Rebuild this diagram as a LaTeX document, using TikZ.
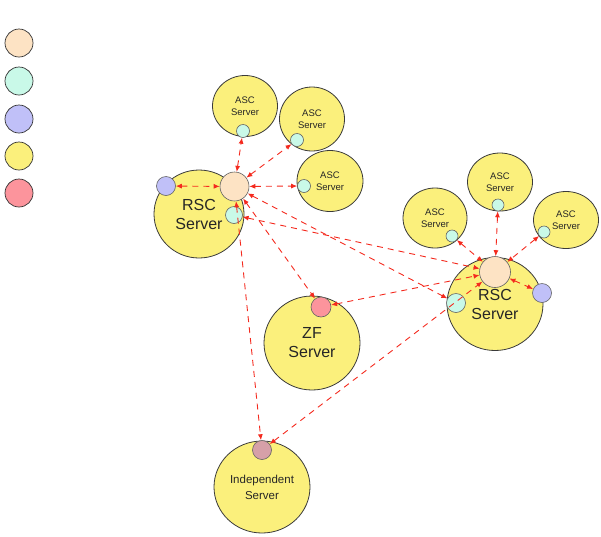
\documentclass[tikz,border=0pt]{standalone}
\usepackage{fontspec}
\setmainfont{Liberation Sans}
\usetikzlibrary{arrows.meta,shapes.geometric}
\definecolor{peach}{HTML}{FDE3C4}
\definecolor{mint}{HTML}{C9F9E8}
\definecolor{lav}{HTML}{C0C0F8}
\definecolor{srvyellow}{HTML}{FBF07C}
\definecolor{rose}{HTML}{FC949C}
\definecolor{mauve}{HTML}{D6A0A8}
\definecolor{linkred}{HTML}{F42A1E}
\definecolor{rim}{HTML}{3A3A3A}
\tikzset{
  server/.style={ellipse, draw=rim, line width=0.8pt, fill=srvyellow, inner sep=0pt, align=center, text=black!85},
  port/.style={circle, draw=rim!80, line width=0.6pt, inner sep=0pt, minimum size=#1},
  legenddot/.style={circle, draw=black!80, line width=0.7pt, inner sep=0pt, minimum size=28pt},
  link/.style={draw=linkred, line width=0.9pt, dash pattern=on 6pt off 5pt,
    {Latex[length=6pt,width=5pt]}-{Latex[length=6pt,width=5pt]}},
}
\begin{document}
\begin{tikzpicture}[x=1pt,y=-1pt]
\useasboundingbox (0,0) rectangle (601,536);

% legend swatches
\node[legenddot, fill=peach] (lg1) at (19,43) {};
\node[legenddot, fill=mint]  (lg2) at (19,81) {};
\node[legenddot, fill=lav]   (lg3) at (19,119) {};
\node[legenddot, fill=srvyellow] (lg4) at (19,156) {};
\node[legenddot, fill=rose]  (lg5) at (19,193) {};

% left cluster
\node[server, minimum width=90pt, minimum height=88pt, font=\fontsize{16}{19}\selectfont] (rscL) at (199,214) {RSC\\Server};
\node[server, minimum width=65pt, minimum height=61pt, font=\fontsize{9.5}{12}\selectfont] (ascA) at (245,106) {ASC\\Server};
\node[server, minimum width=65pt, minimum height=64pt, font=\fontsize{9.5}{12}\selectfont] (ascB) at (312,119) {ASC\\Server};
\node[server, minimum width=66pt, minimum height=61pt, font=\fontsize{9.5}{12}\selectfont] (ascC) at (330,181) {ASC\\Server};

\node[port=29pt, fill=peach] (peachL) at (234.5,186.5) {};
\node[port=19pt, fill=lav]   (lavL)   at (166,186) {};
\node[port=17pt, fill=mint]  (mintL)  at (234,215) {};
\node[port=13pt, fill=mint]  (mA) at (243,131) {};
\node[port=13pt, fill=mint]  (mB) at (297,140) {};
\node[port=13pt, fill=mint]  (mC) at (304,186) {};

% right cluster
\node[server, minimum width=96pt, minimum height=93pt, font=\fontsize{16}{19}\selectfont] (rscR) at (495,304) {RSC\\Server};
\node[server, minimum width=65pt, minimum height=58pt, font=\fontsize{9.5}{12}\selectfont] (ascD) at (500,182) {ASC\\Server};
\node[server, minimum width=64pt, minimum height=60pt, font=\fontsize{9.5}{12}\selectfont] (ascE) at (435,218) {ASC\\Server};
\node[server, minimum width=65pt, minimum height=57pt, font=\fontsize{9.5}{12}\selectfont] (ascF) at (566,220) {ASC\\Server};

\node[port=31pt, fill=peach] (peachR) at (495,272) {};
\node[port=19pt, fill=lav]   (lavR)   at (542,293) {};
\node[port=19pt, fill=mint]  (mintR)  at (456,303) {};
\node[port=12pt, fill=mint]  (mD) at (498,205) {};
\node[port=12pt, fill=mint]  (mE) at (452,236) {};
\node[port=12pt, fill=mint]  (mF) at (544,232) {};

% ZF server
\node[server, minimum width=96pt, minimum height=94pt, font=\fontsize{16}{19}\selectfont] (zf) at (312,343) {ZF\\Server};
\node[port=20pt, fill=rose] (zfport) at (321,307) {};

% independent server
\node[server, minimum width=96pt, minimum height=92pt, font=\fontsize{11.5}{16}\selectfont] (ind) at (262,487) {Independent\\Server};
\node[port=19pt, fill=mauve] (indport) at (262,450) {};

% links
\draw[link] (lavL) -- (peachL);
\draw[link] (peachL) -- (mA);
\draw[link] (peachL) -- (mB);
\draw[link] (peachL) -- (mC);
\draw[link] (peachL) -- (indport);
\draw[link] (peachL) -- (zfport);
\draw[link] (peachL) -- (mintR);
\draw[link] (mintL) -- (peachR);
\draw[link] (zfport) -- (peachR);
\draw[link] (indport) -- (peachR);
\draw[link] (mD) -- (peachR);
\draw[link] (mE) -- (peachR);
\draw[link] (mF) -- (peachR);
\draw[link] (peachR) -- (lavR);
\end{tikzpicture}
\end{document}
